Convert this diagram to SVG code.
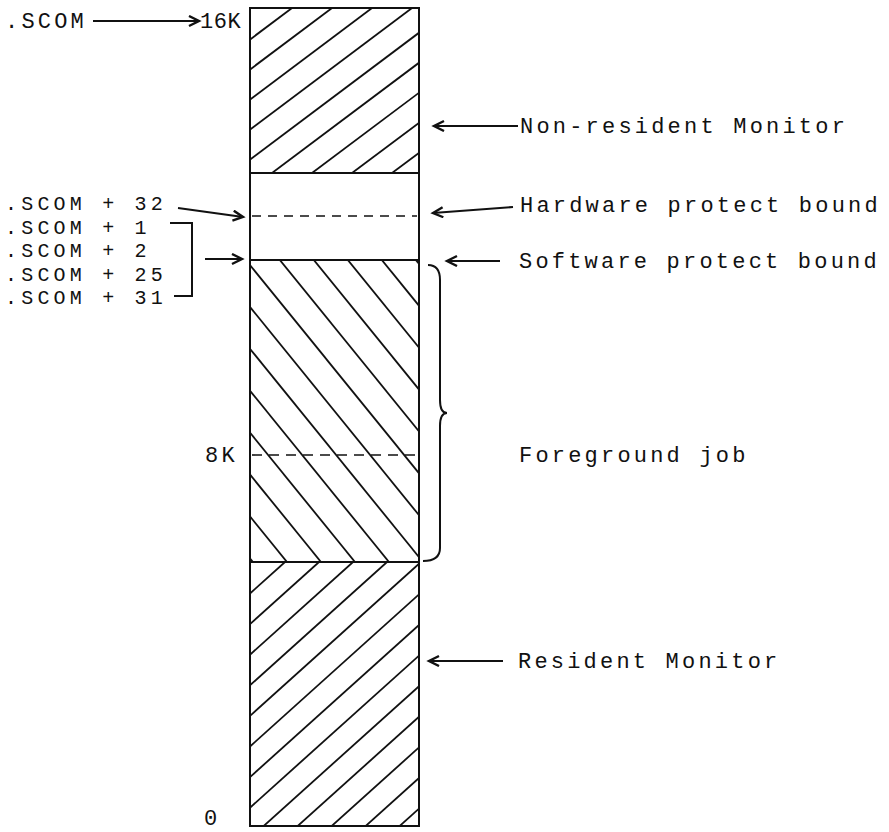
<svg xmlns="http://www.w3.org/2000/svg" width="889" height="832" viewBox="0 0 889 832">
<style>
  text { font-family: "Liberation Mono", "Courier New", monospace; font-size: 22px; letter-spacing: 3.2px; fill: #111; }
  text.stack { font-size: 20px; letter-spacing: 4.2px; }
  text.tight { letter-spacing: 0.6px; }
  .edge { fill: none; stroke: #111; stroke-width: 2; }
  .hatch line { stroke: #111; stroke-width: 1.8; }
  .dash { stroke: #111; stroke-width: 1.6; }
  .arrow { fill: none; stroke: #111; stroke-width: 2; marker-end: url(#ah); }
</style>
<defs>
  <marker id="ah" markerUnits="userSpaceOnUse" markerWidth="14" markerHeight="14" refX="11" refY="6" orient="auto">
    <path d="M1,1 L11,6 L1,11" fill="none" stroke="#111" stroke-width="2.4"/>
  </marker>
  <clipPath id="cTop"><rect x="250" y="8" width="169" height="165"/></clipPath>
  <clipPath id="cMid"><rect x="250" y="260" width="169" height="302"/></clipPath>
  <clipPath id="cBot"><rect x="250" y="562" width="169" height="264"/></clipPath>
</defs>
<rect width="889" height="832" fill="#fff"/>

<g id="non-resident-monitor">
  <g class="hatch" clip-path="url(#cTop)">
    <line x1="292" y1="8" x2="52" y2="188"/>
    <line x1="332" y1="8" x2="92" y2="188"/>
    <line x1="372" y1="8" x2="132" y2="188"/>
    <line x1="412" y1="8" x2="172" y2="188"/>
    <line x1="452" y1="8" x2="212" y2="188"/>
    <line x1="492" y1="8" x2="252" y2="188"/>
    <line x1="532" y1="8" x2="292" y2="188"/>
    <line x1="572" y1="8" x2="332" y2="188"/>
    <line x1="612" y1="8" x2="372" y2="188"/>
    <line x1="652" y1="8" x2="412" y2="188"/>
  </g>
  <rect class="edge" x="250" y="8" width="169" height="165"/>
</g>

<g id="protect-gap">
  <rect class="edge" x="250" y="173" width="169" height="87"/>
  <line class="dash" x1="252" y1="216" x2="417" y2="216" stroke-dasharray="9 7"/>
</g>

<g id="foreground-job">
  <g class="hatch" clip-path="url(#cMid)">
    <line x1="253" y1="562" x2="3" y2="254"/>
    <line x1="287" y1="562" x2="37" y2="254"/>
    <line x1="321" y1="562" x2="71" y2="254"/>
    <line x1="355" y1="562" x2="105" y2="254"/>
    <line x1="389" y1="562" x2="139" y2="254"/>
    <line x1="423" y1="562" x2="173" y2="254"/>
    <line x1="457" y1="562" x2="207" y2="254"/>
    <line x1="491" y1="562" x2="241" y2="254"/>
    <line x1="525" y1="562" x2="275" y2="254"/>
    <line x1="559" y1="562" x2="309" y2="254"/>
    <line x1="593" y1="562" x2="343" y2="254"/>
    <line x1="627" y1="562" x2="377" y2="254"/>
    <line x1="661" y1="562" x2="411" y2="254"/>
  </g>
  <rect class="edge" x="250" y="260" width="169" height="302"/>
  <line class="dash" x1="252" y1="455" x2="415" y2="455" stroke-dasharray="10 7"/>
</g>

<g id="resident-monitor">
  <g class="hatch" clip-path="url(#cBot)">
    <line x1="285" y1="562" x2="-15" y2="832"/>
    <line x1="319" y1="562" x2="19" y2="832"/>
    <line x1="353" y1="562" x2="53" y2="832"/>
    <line x1="387" y1="562" x2="87" y2="832"/>
    <line x1="421" y1="562" x2="121" y2="832"/>
    <line x1="455" y1="562" x2="155" y2="832"/>
    <line x1="489" y1="562" x2="189" y2="832"/>
    <line x1="523" y1="562" x2="223" y2="832"/>
    <line x1="557" y1="562" x2="257" y2="832"/>
    <line x1="591" y1="562" x2="291" y2="832"/>
    <line x1="625" y1="562" x2="325" y2="832"/>
    <line x1="659" y1="562" x2="359" y2="832"/>
    <line x1="693" y1="562" x2="393" y2="832"/>
  </g>
  <rect class="edge" x="250" y="562" width="169" height="264"/>
</g>

<g id="left-labels">
  <text x="5" y="28">.SCOM</text>
  <text class="tight" x="200" y="28">16K</text>
  <text class="stack" x="5" y="210">.SCOM + 32</text>
  <text class="stack" x="5" y="233.5">.SCOM + 1</text>
  <text class="stack" x="5" y="257">.SCOM + 2</text>
  <text class="stack" x="5" y="280.5">.SCOM + 25</text>
  <text class="stack" x="5" y="304">.SCOM + 31</text>
  <text x="205" y="462">8K</text>
  <text x="204" y="825">0</text>
</g>

<g id="right-labels">
  <text x="520" y="133">Non-resident Monitor</text>
  <text x="520" y="212">Hardware protect bound</text>
  <text x="519" y="268">Software protect bound</text>
  <text x="519" y="462">Foreground job</text>
  <text x="518" y="668">Resident Monitor</text>
</g>

<g id="connectors">
  <line class="arrow" x1="93" y1="21" x2="199" y2="21"/>
  <line class="arrow" x1="178" y1="208" x2="243" y2="217"/>
  <line class="arrow" x1="205" y1="259" x2="242" y2="259"/>
  <line class="arrow" x1="518" y1="126" x2="434" y2="126"/>
  <line class="arrow" x1="513" y1="207" x2="433" y2="213"/>
  <line class="arrow" x1="500" y1="261" x2="447" y2="261"/>
  <line class="arrow" x1="503" y1="661" x2="429" y2="661"/>
  <path class="edge" d="M170,223 H192 V296 H174"/>
  <path class="edge" d="M428,265 Q440,265 440,280 V400 Q440,413 447,413 Q440,413 440,426 V548 Q440,561 423,561"/>
</g>
</svg>
